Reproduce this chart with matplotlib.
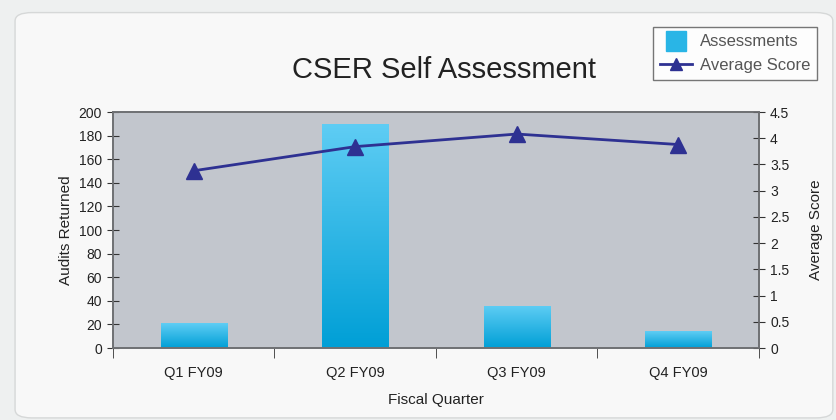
import numpy as np
import matplotlib.pyplot as plt
from matplotlib.patches import FancyBboxPatch
from matplotlib.lines import Line2D
from matplotlib.colors import LinearSegmentedColormap

plt.rcParams['font.family'] = ['Liberation Sans', 'DejaVu Sans']

quarters = ['Q1 FY09', 'Q2 FY09', 'Q3 FY09', 'Q4 FY09']
assessments = [21, 190, 36, 14]
avg_score = [3.38, 3.84, 4.08, 3.88]

fig = plt.figure(figsize=(8.37, 4.20), dpi=100, facecolor='#eef0f0')

# rounded panel behind the chart
panel = FancyBboxPatch((0.018, 0.005), 0.977, 0.965, boxstyle='round,pad=0,rounding_size=0.02',
                       transform=fig.transFigure, facecolor='#f8f8f8', edgecolor='#d6d8d8',
                       linewidth=1, zorder=-10)
fig.patches.append(panel)

ax = fig.add_axes([0.135, 0.1714, 0.7718, 0.5619])
ax.set_facecolor('#c2c6cd')
ax2 = ax.twinx()

x = np.arange(len(quarters))
bars = ax.bar(x, assessments, width=0.41, color='none', edgecolor='none')

# vertical gradient fill for each bar
cmap = LinearSegmentedColormap.from_list('blu', ['#009fd6', '#5fcdf4'])
grad = np.linspace(0, 1, 256).reshape(-1, 1)
for b in bars:
    x0, y0 = b.get_x(), b.get_y()
    im = ax.imshow(grad, cmap=cmap, origin='lower', aspect='auto',
                   extent=(x0, x0 + b.get_width(), y0, y0 + b.get_height()), zorder=2)
    im.set_clip_path(b)

ax.set_xlim(-0.5, len(quarters) - 0.5)
ax.set_ylim(0, 200)
ax.set_yticks(range(0, 201, 20))
ax.set_xticks(x)
ax.set_xticklabels(quarters, fontsize=10.5, color='#222222')
ax.set_xticks(np.arange(-0.5, len(quarters)), minor=True)
ax.tick_params(axis='x', which='major', length=0, pad=13)
ax.tick_params(axis='x', which='minor', length=7, direction='out', color='#333333')
ax.tick_params(axis='y', direction='inout', length=9, labelsize=10, color='#333333', labelcolor='#222222')

ax2.plot(x, avg_score, color='#2e3192', linewidth=2, marker='^', markersize=11, zorder=3)
ax2.set_ylim(0, 4.5)
ax2.set_yticks(np.arange(0, 4.51, 0.5))
ax2.set_yticklabels(['0', '0.5', '1', '1.5', '2', '2.5', '3', '3.5', '4', '4.5'])
ax2.tick_params(axis='y', direction='inout', length=9, labelsize=10, color='#333333', labelcolor='#222222')

for a in (ax, ax2):
    for s in a.spines.values():
        s.set_color('#6e7073')
        s.set_linewidth(1.2)

ax.set_ylabel('Audits Returned', fontsize=11, color='#222222', labelpad=4)
ax2.set_ylabel('Average Score', fontsize=11, color='#222222', labelpad=14)
ax.set_xlabel('Fiscal Quarter', fontsize=11, color='#222222', labelpad=9)

fig.text(0.531, 0.834, 'CSER Self Assessment', ha='center', va='center', fontsize=21, color='#222222')

handles = [Line2D([], [], linestyle='none', marker='s', markersize=14, color='#29b5e6'),
           Line2D([], [], color='#2e3192', linewidth=2, marker='^', markersize=8)]
leg = fig.legend(handles, ['Assessments', 'Average Score'], loc='upper left',
                 bbox_to_anchor=(0.780, 0.936), fontsize=12, frameon=True, fancybox=False,
                 handlelength=1.9, labelspacing=0.5, borderpad=0.45, handletextpad=0.45,
                 borderaxespad=0)
leg.get_frame().set_edgecolor('#555555')
leg.get_frame().set_facecolor('white')
for t in leg.get_texts():
    t.set_color('#555555')

fig.savefig('out.png', dpi=100, facecolor=fig.get_facecolor())
